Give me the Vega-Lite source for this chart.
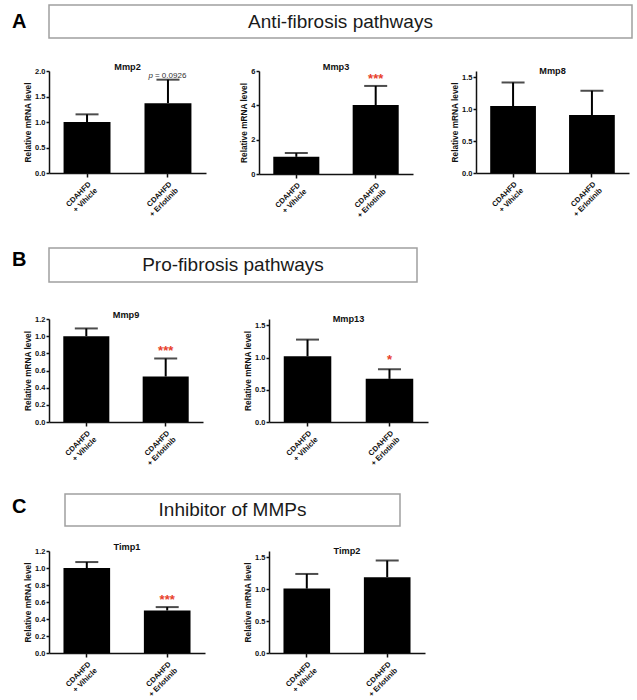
{
"$schema": "https://vega.github.io/schema/vega-lite/v6.json",
"background": "white",
"padding": {"left": 11, "top": 4, "right": 0, "bottom": 0},
"spacing": 0,
"bounds": "full",
"vconcat": [
{"width": 583, "height": 33, "view": {"stroke": "#a0a0a0", "strokeWidth": 1.5},
 "title": {"text": "A", "orient": "left", "angle": 0, "anchor": "middle", "align": "right", "baseline": "middle", "fontSize": 20, "fontWeight": "bold", "offset": 8, "frame": "bounds", "color": "#000"},
 "data": {"values": [{"heading": "Anti-fibrosis pathways"}]},
 "mark": {"type": "text", "fontSize": 19, "color": "#1a1a1a"},
 "encoding": {"text": {"field": "heading"}}},
{"width": 1, "height": 22.5, "data": {"values": []}, "mark": "point"},
{"hconcat": [
 {"width": 157, "height": 102, "title": {"text": "Mmp2"},
  "data": {"values": [
   {"group": "CDAHFD|+ Vihicle", "mean": 1.0, "upper": 1.15, "sig": "", "note": ""},
   {"group": "CDAHFD|+ Erlotinib", "mean": 1.37, "upper": 1.83, "sig": "", "note": "= 0.0926"}]},
  "encoding": {"x": {"field": "group", "type": "nominal", "sort": null, "title": null, "scale": {"paddingInner": 0.42, "paddingOuter": 0.18}, "axis": {"labelExpr": "split(datum.value, '|')"}}},
  "layer": [
   {"mark": {"type": "bar", "color": "#000"}, "encoding": {"y": {"field": "mean", "type": "quantitative", "title": "Relative mRNA level", "scale": {"domain": [0, 2]}, "axis": {"values": [0, 0.5, 1, 1.5, 2], "format": ".1f"}}}},
   {"mark": {"type": "rule", "color": "#000", "strokeWidth": 2}, "encoding": {"y": {"field": "mean", "type": "quantitative", "title": "Relative mRNA level", "axis": {"values": [0, 0.5, 1, 1.5, 2], "format": ".1f"}}, "y2": {"field": "upper"}}},
   {"mark": {"type": "tick", "color": "#000", "thickness": 2, "size": 23}, "encoding": {"y": {"field": "upper", "type": "quantitative", "title": "Relative mRNA level", "axis": {"values": [0, 0.5, 1, 1.5, 2], "format": ".1f"}}}},
   {"mark": {"type": "text", "fontSize": 8, "color": "#333", "align": "left", "baseline": "alphabetic", "dx": -13, "dy": -2}, "encoding": {"y": {"field": "upper", "type": "quantitative", "title": "Relative mRNA level", "axis": {"values": [0, 0.5, 1, 1.5, 2], "format": ".1f"}}, "text": {"field": "note"}}},
   {"transform": [{"filter": "datum.note != ''"}], "mark": {"type": "text", "fontSize": 8, "fontStyle": "italic", "color": "#333", "align": "right", "baseline": "alphabetic", "dx": -15, "dy": -2}, "encoding": {"y": {"field": "upper", "type": "quantitative", "title": "Relative mRNA level", "axis": {"values": [0, 0.5, 1, 1.5, 2], "format": ".1f"}}, "text": {"value": "p"}}}
  ]},
 {"width": 53, "height": 150, "data": {"values": []}, "mark": "point"},
 {"width": 154, "height": 103, "title": {"text": "Mmp3"},
  "data": {"values": [
   {"group": "CDAHFD|+ Vihicle", "mean": 1.0, "upper": 1.22, "sig": ""},
   {"group": "CDAHFD|+ Erlotinib", "mean": 4.02, "upper": 5.13, "sig": "***"}]},
  "encoding": {"x": {"field": "group", "type": "nominal", "sort": null, "title": null, "scale": {"paddingInner": 0.42, "paddingOuter": 0.18}, "axis": {"labelExpr": "split(datum.value, '|')"}}},
  "layer": [
   {"mark": {"type": "bar", "color": "#000"}, "encoding": {"y": {"field": "mean", "type": "quantitative", "title": "Relative mRNA level", "scale": {"domain": [0, 6]}, "axis": {"values": [0, 2, 4, 6], "format": "d"}}}},
   {"mark": {"type": "rule", "color": "#000", "strokeWidth": 2}, "encoding": {"y": {"field": "mean", "type": "quantitative", "title": "Relative mRNA level", "axis": {"values": [0, 2, 4, 6], "format": "d"}}, "y2": {"field": "upper"}}},
   {"mark": {"type": "tick", "color": "#000", "thickness": 2, "size": 23}, "encoding": {"y": {"field": "upper", "type": "quantitative", "title": "Relative mRNA level", "axis": {"values": [0, 2, 4, 6], "format": "d"}}}},
   {"mark": {"type": "text", "fontSize": 13, "fontWeight": "bold", "color": "#e8412c", "baseline": "alphabetic", "dy": -3}, "encoding": {"y": {"field": "upper", "type": "quantitative", "title": "Relative mRNA level", "axis": {"values": [0, 2, 4, 6], "format": "d"}}, "text": {"field": "sig"}}}
  ]},
 {"width": 63, "height": 1, "data": {"values": []}, "mark": "point"},
 {"width": 153, "height": 102, "title": {"text": "Mmp8"},
  "data": {"values": [
   {"group": "CDAHFD|+ Vihicle", "mean": 1.05, "upper": 1.42, "sig": ""},
   {"group": "CDAHFD|+ Erlotinib", "mean": 0.91, "upper": 1.29, "sig": ""}]},
  "encoding": {"x": {"field": "group", "type": "nominal", "sort": null, "title": null, "scale": {"paddingInner": 0.42, "paddingOuter": 0.18}, "axis": {"labelExpr": "split(datum.value, '|')"}}},
  "layer": [
   {"mark": {"type": "bar", "color": "#000"}, "encoding": {"y": {"field": "mean", "type": "quantitative", "title": "Relative mRNA level", "scale": {"domain": [0, 1.5]}, "axis": {"values": [0, 0.5, 1, 1.5], "format": ".1f"}}}},
   {"mark": {"type": "rule", "color": "#000", "strokeWidth": 2}, "encoding": {"y": {"field": "mean", "type": "quantitative", "title": "Relative mRNA level", "axis": {"values": [0, 0.5, 1, 1.5], "format": ".1f"}}, "y2": {"field": "upper"}}},
   {"mark": {"type": "tick", "color": "#000", "thickness": 2, "size": 23}, "encoding": {"y": {"field": "upper", "type": "quantitative", "title": "Relative mRNA level", "axis": {"values": [0, 0.5, 1, 1.5], "format": ".1f"}}}}
  ]}
 ], "spacing": 0, "bounds": "flush"},
{"width": 1, "height": 26, "data": {"values": []}, "mark": "point"},
{"width": 368, "height": 34, "view": {"stroke": "#a0a0a0", "strokeWidth": 1.5},
 "title": {"text": "B", "orient": "left", "angle": 0, "anchor": "middle", "align": "right", "baseline": "middle", "fontSize": 20, "fontWeight": "bold", "offset": 8, "frame": "bounds", "dy": -5, "color": "#000"},
 "data": {"values": [{"heading": "Pro-fibrosis pathways"}]},
 "mark": {"type": "text", "fontSize": 19, "color": "#1a1a1a"},
 "encoding": {"text": {"field": "heading"}}},
{"width": 1, "height": 27, "data": {"values": []}, "mark": "point"},
{"hconcat": [
 {"width": 154, "height": 103, "title": {"text": "Mmp9"},
  "data": {"values": [
   {"group": "CDAHFD|+ Vihicle", "mean": 1.0, "upper": 1.09, "sig": ""},
   {"group": "CDAHFD|+ Erlotinib", "mean": 0.53, "upper": 0.74, "sig": "***"}]},
  "encoding": {"x": {"field": "group", "type": "nominal", "sort": null, "title": null, "scale": {"paddingInner": 0.42, "paddingOuter": 0.18}, "axis": {"labelExpr": "split(datum.value, '|')"}}},
  "layer": [
   {"mark": {"type": "bar", "color": "#000"}, "encoding": {"y": {"field": "mean", "type": "quantitative", "title": "Relative mRNA level", "scale": {"domain": [0, 1.2]}, "axis": {"values": [0, 0.2, 0.4, 0.6, 0.8, 1, 1.2], "format": ".1f"}}}},
   {"mark": {"type": "rule", "color": "#000", "strokeWidth": 2}, "encoding": {"y": {"field": "mean", "type": "quantitative", "title": "Relative mRNA level", "axis": {"values": [0, 0.2, 0.4, 0.6, 0.8, 1, 1.2], "format": ".1f"}}, "y2": {"field": "upper"}}},
   {"mark": {"type": "tick", "color": "#000", "thickness": 2, "size": 23}, "encoding": {"y": {"field": "upper", "type": "quantitative", "title": "Relative mRNA level", "axis": {"values": [0, 0.2, 0.4, 0.6, 0.8, 1, 1.2], "format": ".1f"}}}},
   {"mark": {"type": "text", "fontSize": 13, "fontWeight": "bold", "color": "#e8412c", "baseline": "alphabetic", "dy": -3}, "encoding": {"y": {"field": "upper", "type": "quantitative", "title": "Relative mRNA level", "axis": {"values": [0, 0.2, 0.4, 0.6, 0.8, 1, 1.2], "format": ".1f"}}, "text": {"field": "sig"}}}
  ]},
 {"width": 66, "height": 150, "data": {"values": []}, "mark": "point"},
 {"width": 159, "height": 103, "title": {"text": "Mmp13"},
  "data": {"values": [
   {"group": "CDAHFD|+ Vihicle", "mean": 1.02, "upper": 1.28, "sig": ""},
   {"group": "CDAHFD|+ Erlotinib", "mean": 0.67, "upper": 0.82, "sig": "*"}]},
  "encoding": {"x": {"field": "group", "type": "nominal", "sort": null, "title": null, "scale": {"paddingInner": 0.42, "paddingOuter": 0.18}, "axis": {"labelExpr": "split(datum.value, '|')"}}},
  "layer": [
   {"mark": {"type": "bar", "color": "#000"}, "encoding": {"y": {"field": "mean", "type": "quantitative", "title": "Relative mRNA level", "scale": {"domain": [0, 1.5]}, "axis": {"values": [0, 0.5, 1, 1.5], "format": ".1f"}}}},
   {"mark": {"type": "rule", "color": "#000", "strokeWidth": 2}, "encoding": {"y": {"field": "mean", "type": "quantitative", "title": "Relative mRNA level", "axis": {"values": [0, 0.5, 1, 1.5], "format": ".1f"}}, "y2": {"field": "upper"}}},
   {"mark": {"type": "tick", "color": "#000", "thickness": 2, "size": 23}, "encoding": {"y": {"field": "upper", "type": "quantitative", "title": "Relative mRNA level", "axis": {"values": [0, 0.5, 1, 1.5], "format": ".1f"}}}},
   {"mark": {"type": "text", "fontSize": 13, "fontWeight": "bold", "color": "#e8412c", "baseline": "alphabetic", "dy": -5}, "encoding": {"y": {"field": "upper", "type": "quantitative", "title": "Relative mRNA level", "axis": {"values": [0, 0.5, 1, 1.5], "format": ".1f"}}, "text": {"field": "sig"}}}
  ]}
 ], "spacing": 0, "bounds": "flush"},
{"width": 1, "height": 23.5, "data": {"values": []}, "mark": "point"},
{"hconcat": [
 {"width": 16, "height": 1, "data": {"values": []}, "mark": "point"},
 {"width": 335, "height": 32, "view": {"stroke": "#a0a0a0", "strokeWidth": 1.5},
  "title": {"text": "C", "orient": "left", "angle": 0, "anchor": "middle", "align": "right", "baseline": "middle", "fontSize": 20, "fontWeight": "bold", "offset": 24, "frame": "bounds", "dy": -3, "color": "#000"},
  "data": {"values": [{"heading": "Inhibitor of MMPs"}]},
  "mark": {"type": "text", "fontSize": 19, "color": "#1a1a1a"},
  "encoding": {"text": {"field": "heading"}}}
 ], "spacing": 0, "bounds": "flush"},
{"width": 1, "height": 15, "data": {"values": []}, "mark": "point"},
{"hconcat": [
 {"width": 156, "height": 102, "title": {"text": "Timp1"},
  "data": {"values": [
   {"group": "CDAHFD|+ Vihicle", "mean": 1.0, "upper": 1.07, "sig": ""},
   {"group": "CDAHFD|+ Erlotinib", "mean": 0.5, "upper": 0.54, "sig": "***"}]},
  "encoding": {"x": {"field": "group", "type": "nominal", "sort": null, "title": null, "scale": {"paddingInner": 0.42, "paddingOuter": 0.18}, "axis": {"labelExpr": "split(datum.value, '|')"}}},
  "layer": [
   {"mark": {"type": "bar", "color": "#000"}, "encoding": {"y": {"field": "mean", "type": "quantitative", "title": "Relative mRNA level", "scale": {"domain": [0, 1.2]}, "axis": {"values": [0, 0.2, 0.4, 0.6, 0.8, 1, 1.2], "format": ".1f"}}}},
   {"mark": {"type": "rule", "color": "#000", "strokeWidth": 2}, "encoding": {"y": {"field": "mean", "type": "quantitative", "title": "Relative mRNA level", "axis": {"values": [0, 0.2, 0.4, 0.6, 0.8, 1, 1.2], "format": ".1f"}}, "y2": {"field": "upper"}}},
   {"mark": {"type": "tick", "color": "#000", "thickness": 2, "size": 23}, "encoding": {"y": {"field": "upper", "type": "quantitative", "title": "Relative mRNA level", "axis": {"values": [0, 0.2, 0.4, 0.6, 0.8, 1, 1.2], "format": ".1f"}}}},
   {"mark": {"type": "text", "fontSize": 13, "fontWeight": "bold", "color": "#e8412c", "baseline": "alphabetic", "dy": -3}, "encoding": {"y": {"field": "upper", "type": "quantitative", "title": "Relative mRNA level", "axis": {"values": [0, 0.2, 0.4, 0.6, 0.8, 1, 1.2], "format": ".1f"}}, "text": {"field": "sig"}}}
  ]},
 {"width": 64, "height": 140, "data": {"values": []}, "mark": "point"},
 {"width": 156, "height": 102, "title": {"text": "Timp2"},
  "data": {"values": [
   {"group": "CDAHFD|+ Vihicle", "mean": 1.01, "upper": 1.24, "sig": ""},
   {"group": "CDAHFD|+ Erlotinib", "mean": 1.19, "upper": 1.45, "sig": ""}]},
  "encoding": {"x": {"field": "group", "type": "nominal", "sort": null, "title": null, "scale": {"paddingInner": 0.42, "paddingOuter": 0.18}, "axis": {"labelExpr": "split(datum.value, '|')"}}},
  "layer": [
   {"mark": {"type": "bar", "color": "#000"}, "encoding": {"y": {"field": "mean", "type": "quantitative", "title": "Relative mRNA level", "scale": {"domain": [0, 1.6]}, "axis": {"values": [0, 0.5, 1, 1.5], "format": ".1f"}}}},
   {"mark": {"type": "rule", "color": "#000", "strokeWidth": 2}, "encoding": {"y": {"field": "mean", "type": "quantitative", "title": "Relative mRNA level", "axis": {"values": [0, 0.5, 1, 1.5], "format": ".1f"}}, "y2": {"field": "upper"}}},
   {"mark": {"type": "tick", "color": "#000", "thickness": 2, "size": 23}, "encoding": {"y": {"field": "upper", "type": "quantitative", "title": "Relative mRNA level", "axis": {"values": [0, 0.5, 1, 1.5], "format": ".1f"}}}}
  ]}
 ], "spacing": 0, "bounds": "flush"}
],
"config": {
 "font": "Liberation Sans",
 "view": {"stroke": null},
 "axis": {"grid": false, "domainColor": "#111", "tickColor": "#111", "domainWidth": 1.5, "tickWidth": 1.5, "labelColor": "#111", "labelFontWeight": "bold", "labelFontSize": 7.5, "titleFontSize": 8.3, "titleFontWeight": "bold", "titleColor": "#111"},
 "axisY": {"tickSize": 3, "labelPadding": 1, "titlePadding": 2, "labelOverlap": false},
 "axisX": {"tickSize": 4, "labelAngle": -45, "labelAlign": "right", "labelBaseline": "top", "labelPadding": 3, "labelLineHeight": 9},
 "title": {"fontSize": 9.2, "fontWeight": "bold", "offset": -5, "frame": "group", "color": "#111"}
}
}
